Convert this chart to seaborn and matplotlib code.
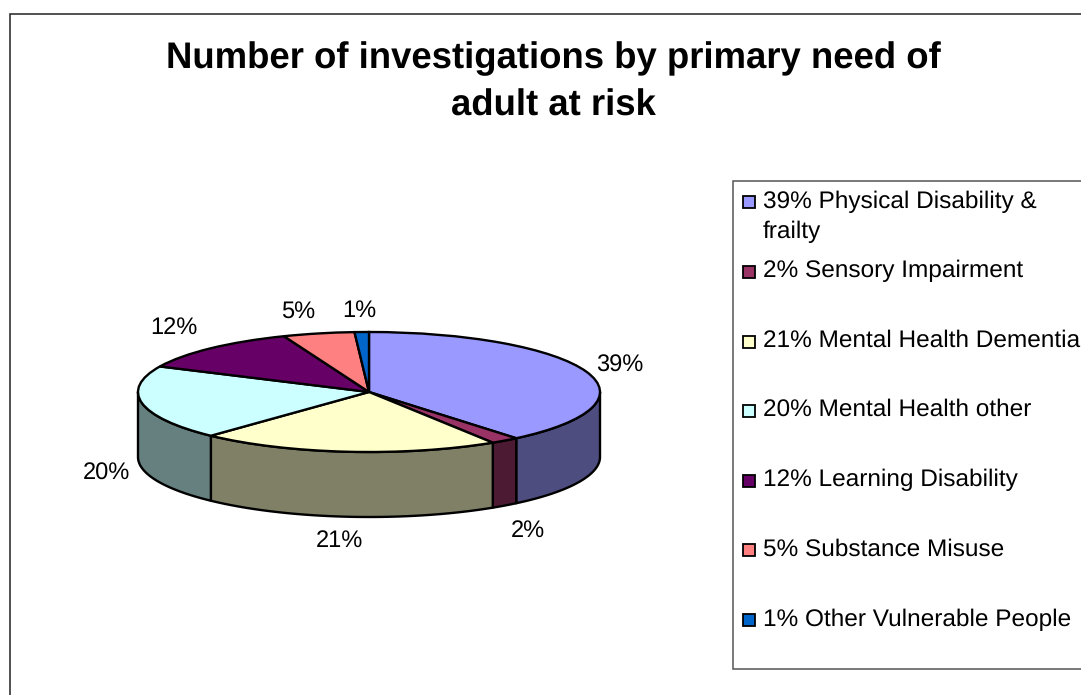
import numpy as np
import matplotlib
matplotlib.use("Agg")
import matplotlib.pyplot as plt
import seaborn as sns
from matplotlib.patches import Polygon, Rectangle

categories = ["Physical Disability &\nfrailty", "Sensory Impairment", "Mental Health Dementia",
              "Mental Health other", "Learning Disability", "Substance Misuse",
              "Other Vulnerable People"]
values = [39, 2, 21, 20, 12, 5, 1]
title = "Number of investigations by primary need of\nadult at risk"
hex_colors = ["#9999FF", "#993366", "#FFFFCC", "#CCFFFF", "#660066", "#FF8080", "#0066CC"]

sns.set_theme(style="white")
plt.rcParams["font.family"] = ["Liberation Sans", "DejaVu Sans"]
plt.rcParams["text.hinting"] = "no_hinting"
plt.rcParams["text.hinting_factor"] = 8
palette = sns.color_palette(hex_colors)

fig = plt.figure(figsize=(10.81, 6.95), dpi=100, facecolor="white")

# overlay in pixel units for chart chrome and text
bg = fig.add_axes([0, 0, 1, 1])
bg.set_xlim(0, 1081)
bg.set_ylim(695, 0)
bg.axis("off")
bg.plot([9.5, 9.5, 1081], [695, 13.5, 13.5], color="#222222", lw=1.1, solid_joinstyle="miter")
bg.plot([1081, 733, 733, 1081], [180.5, 180.5, 668.5, 668.5], color="#555555", lw=1.1, solid_joinstyle="miter")
bg.text(553.5, 82.5, title, ha="center", va="center", fontsize=26.3, fontweight="bold",
        color="black", linespacing=1.46)

# 3-D looking pie
cx, cy, rx, ry, depth = 369, 392, 231, 60, 65
pad = 1.1
top_px, bot_px = 322, 530
ax = fig.add_axes([(cx - rx * pad) / 1081, 1 - bot_px / 695, 2 * rx * pad / 1081, (bot_px - top_px) / 695])
ax.patch.set_alpha(0)
d = depth / ry

edges = np.cumsum([0] + values) * 3.6
for i, col in enumerate(palette):
    lo, hi = max(edges[i], 90), min(edges[i + 1], 270)
    if hi <= lo:
        continue
    th = np.radians(np.linspace(lo, hi, 80))
    x, y = np.sin(th), np.cos(th)
    pts = np.r_[np.c_[x, y], np.c_[x[::-1], y[::-1] - d]]
    ax.add_patch(Polygon(pts, closed=True, facecolor=tuple(c * 0.5 for c in col),
                         edgecolor="black", lw=1.7, joinstyle="round"))

ax.pie(values, colors=palette, startangle=90, counterclock=False, radius=1,
       wedgeprops=dict(edgecolor="black", linewidth=1.7))
ax.set_aspect("auto")
ax.set_xlim(-pad, pad)
ax.set_ylim((cy - bot_px) / ry, (cy - top_px) / ry)
ax.axis("off")

# value labels
label_xy = [(620, 364), (528, 529), (339, 539), (106, 472), (174, 326), (298, 310), (359, 309)]
for v, (lx, ly) in zip(values, label_xy):
    bg.text(lx, ly + 2, f"{v}%", ha="center", va="center", fontsize=17, color="black")

# legend
swatch_y = [202, 272, 342, 411, 481, 550, 620]
text_y = [200, 269, 339, 408, 478, 548, 618]
for v, name, col, sy, ty in zip(values, categories, palette, swatch_y, text_y):
    bg.add_patch(Rectangle((743, sy - 6), 12, 12, facecolor=col, edgecolor="black", lw=1.3))
    parts = name.split("\n")
    bg.text(763, ty + 1.5, f"{v}% {parts[0]}", ha="left", va="center", fontsize=17.6, color="black", clip_on=True)
    if len(parts) > 1:
        bg.text(763, ty + 31.5, parts[1], ha="left", va="center", fontsize=17.6, color="black")

fig.savefig("out.png", dpi=100)
